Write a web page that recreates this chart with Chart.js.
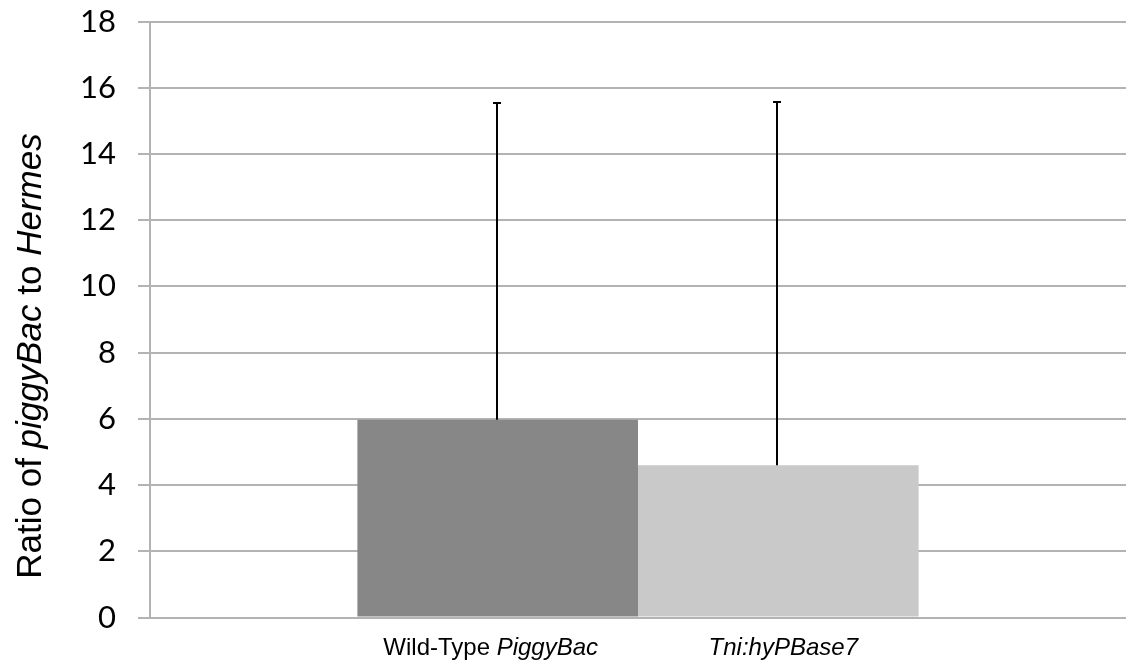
<!DOCTYPE html>
<html>
<head>
<meta charset="utf-8">
<script src="https://cdn.jsdelivr.net/npm/chart.js@4/dist/chart.umd.min.js"></script>
<style>
  html, body { margin: 0; padding: 0; background: #fff; }
  #wrap { width: 1128px; height: 668px; }
</style>
</head>
<body>
<div id="wrap"><canvas id="ratio-chart" width="1128" height="668"></canvas></div>
<script>
// Grupos (cada uno es una barra) y sus valores
const groups = ['Wild-Type PiggyBac', 'Tni:hyPBase7'];
const means = [5.97, 4.6];
const errUp = [9.56, 10.97];
const barColors = ['#878787', '#c9c9c9'];

// Partes en cursiva de cada etiqueta
const groupParts = [
  [['Wild-Type ', false], ['PiggyBac', true]],
  [['Tni:hyPBase7', true]]
];
const titleParts = [['Ratio of ', false], ['piggyBac', true], [' to ', false], ['Hermes', true]];

const yMin = 0, yMax = 18, yStep = 2;

const labelFont = '"Liberation Sans", Arial, sans-serif';
const labelShift = [-7, 5];

// Dibuja texto con tramos normales y en cursiva, centrado en x
function drawParts(ctx, parts, x, y, size, family) {
  let total = 0;
  parts.forEach(([t, it]) => {
    ctx.font = (it ? 'italic ' : '') + size + 'px ' + family;
    total += ctx.measureText(t).width;
  });
  let cx = x - total / 2;
  parts.forEach(([t, it]) => {
    ctx.font = (it ? 'italic ' : '') + size + 'px ' + family;
    ctx.fillText(t, cx, y);
    cx += ctx.measureText(t).width;
  });
}

// Barras de error (solo hacia arriba), etiquetas y título del eje
const extras = {
  id: 'extras',
  afterDatasetsDraw(chart) {
    const ctx = chart.ctx;
    const y = chart.scales.y;
    ctx.save();
    ctx.strokeStyle = '#000';
    ctx.lineWidth = 2;
    chart.data.datasets.forEach((ds, i) => {
      const bar = chart.getDatasetMeta(i).data[0];
      const top = Math.round(y.getPixelForValue(means[i] + errUp[i]));
      const x = Math.round(bar.x) - 1;
      ctx.beginPath();
      ctx.moveTo(x, bar.y);
      ctx.lineTo(x, top);
      ctx.moveTo(x - 4, top);
      ctx.lineTo(x + 4, top);
      ctx.stroke();
    });

    ctx.fillStyle = '#000';
    ctx.textBaseline = 'middle';
    ctx.textAlign = 'left';
    chart.data.datasets.forEach((ds, i) => {
      const bar = chart.getDatasetMeta(i).data[0];
      drawParts(ctx, groupParts[i], bar.x + labelShift[i], 648, 24, labelFont);
    });

    ctx.textBaseline = 'alphabetic';
    ctx.translate(41, 356);
    ctx.rotate(-Math.PI / 2);
    drawParts(ctx, titleParts, 0, 0, 35, labelFont);
    ctx.restore();
  }
};

const chart = new Chart(document.getElementById('ratio-chart'), {
  type: 'bar',
  data: {
    labels: [''],
    datasets: groups.map((g, i) => ({
      label: g,
      data: [means[i]],
      backgroundColor: barColors[i],
      borderWidth: 0,
      categoryPercentage: 0.575,
      barPercentage: 1
    }))
  },
  options: {
    responsive: false,
    animation: false,
    layout: { padding: { top: 21.5, right: 2, bottom: 50.5, left: 0 } },
    plugins: {
      legend: { display: false },
      tooltip: { enabled: false }
    },
    scales: {
      x: {
        ticks: { display: false },
        grid: { display: false },
        border: { display: false },
        afterFit: s => { s.height = 0; }
      },
      y: {
        min: yMin,
        max: yMax,
        ticks: {
          stepSize: yStep,
          padding: 22,
          color: '#000',
          font: { family: 'Lato, "Open Sans", sans-serif', size: 31 }
        },
        grid: { color: '#b3b3b3', lineWidth: 2, tickLength: 12 },
        border: { color: '#b3b3b3', width: 2 },
        afterFit: s => {
          s.width = 150;
          s.paddingTop = 0;
          s.paddingBottom = 0;
        }
      }
    }
  },
  plugins: [extras]
});
</script>
</body>
</html>
